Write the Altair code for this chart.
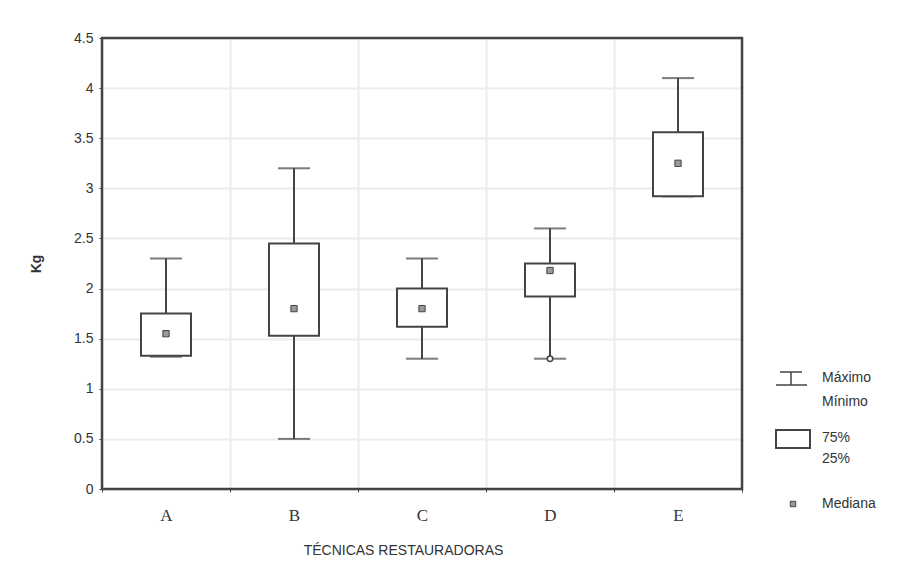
import altair as alt
import pandas as pd

categories = ["A", "B", "C", "D", "E"]
maximum = [2.3, 3.2, 2.3, 2.6, 4.1]
q3 = [1.75, 2.45, 2.0, 2.25, 3.56]
median = [1.55, 1.8, 1.8, 2.18, 3.25]
q1 = [1.33, 1.53, 1.62, 1.92, 2.92]
minimum = [1.32, 0.5, 1.3, 1.3, 2.92]
outlier_cat = ["D"]
outlier_val = [1.3]
y_ticks = [0, 0.5, 1, 1.5, 2, 2.5, 3, 3.5, 4, 4.5]

df = pd.DataFrame({"cat": categories, "max": maximum, "q3": q3, "med": median,
                   "q1": q1, "min": minimum})
out = pd.DataFrame({"cat": outlier_cat, "v": outlier_val})

INK = "#444444"
FONT = "Liberation Sans"

xscale = alt.Scale(domain=categories, paddingInner=0, paddingOuter=0)
yscale = alt.Scale(domain=[0, 4.5], nice=False, zero=True)

x_enc = alt.X("cat:N", scale=xscale, sort=categories,
              axis=alt.Axis(title="TÉCNICAS RESTAURADORAS", labelAngle=0,
                            tickBand="extent", labelFont="Liberation Serif",
                            labelFontSize=17, labelColor="#333",
                            labelPadding=15, titlePadding=20,
                            titleFont=FONT, titleFontSize=14, titleFontWeight="normal",
                            titleColor="#333", titleX=301,
                            tickSize=3, tickColor=INK, domain=False,
                            grid=True, gridColor="#ececec", gridWidth=2))

base = alt.Chart(df)

whisk_lo = base.mark_rule(color=INK, strokeWidth=2).encode(
    x=x_enc,
    y=alt.Y("min:Q", scale=yscale,
            axis=alt.Axis(title="Kg", values=y_ticks, labelExpr="datum.value + ''",
                          labelFont=FONT, labelFontSize=14, labelColor="#333",
                          labelPadding=6, titleFont=FONT, titleFontSize=14,
                          titleFontWeight="bold", titleColor="#333", titlePadding=30,
                          tickSize=3, tickColor=INK, domain=False,
                          grid=True, gridColor="#ececec", gridWidth=2)),
    y2="q1:Q")
whisk_hi = base.mark_rule(color=INK, strokeWidth=2).encode(
    x="cat:N", y="q3:Q", y2="max:Q")
cap_hi = base.mark_tick(color=INK, thickness=2, size=32).encode(x="cat:N", y="max:Q")
cap_lo = base.mark_tick(color=INK, thickness=2, size=32).encode(x="cat:N", y="min:Q")
box = base.mark_bar(fill="white", stroke=INK, strokeWidth=2, size=50).encode(
    x="cat:N", y="q1:Q", y2="q3:Q")
med = base.mark_square(size=40, fill="#999999", stroke=INK, strokeWidth=1, opacity=1).encode(
    x="cat:N", y="med:Q")
outl = alt.Chart(out).mark_point(shape="circle", size=30, fill="white", stroke=INK,
                                 strokeWidth=1.5, opacity=1).encode(x="cat:N", y="v:Q")

one = pd.DataFrame({"k": [0]})
lg = alt.Chart(one)
frame = lg.mark_rect(fill=None, stroke=INK, strokeWidth=2.5).encode(
    x=alt.value(0), x2=alt.value(640), y=alt.value(0), y2=alt.value(451))
leg_layers = [
    lg.mark_rule(color=INK, strokeWidth=1.5).encode(x=alt.value(678), x2=alt.value(700), y=alt.value(334)),
    lg.mark_rule(color=INK, strokeWidth=1.5).encode(x=alt.value(689), y=alt.value(334), y2=alt.value(347)),
    lg.mark_rule(color=INK, strokeWidth=1.5).encode(x=alt.value(674), x2=alt.value(705), y=alt.value(347)),
    lg.mark_rect(fill="white", stroke=INK, strokeWidth=2).encode(
        x=alt.value(674), x2=alt.value(708), y=alt.value(392), y2=alt.value(410)),
    lg.mark_square(size=30, fill="#999999", stroke=INK, strokeWidth=1, opacity=1).encode(
        x=alt.value(691), y=alt.value(466)),
]
texts = [("Máximo", 340), ("Mínimo", 364), ("75%", 400), ("25%", 421), ("Mediana", 466)]
for t, yy in texts:
    leg_layers.append(
        lg.mark_text(text=t, align="left", baseline="middle", font=FONT, fontSize=14,
                     color="#333").encode(x=alt.value(720), y=alt.value(yy)))

chart = alt.layer(whisk_lo, whisk_hi, cap_hi, cap_lo, box, med, outl, frame, *leg_layers).properties(
    width=640, height=451,
    autosize=alt.AutoSizeParams(type="none"),
    padding={"left": 94, "top": 30, "right": 158, "bottom": 68},
    background="white",
).configure_view(stroke=INK, strokeWidth=2)

chart.save("out.html", embed_options={"renderer": "svg", "actions": False})
